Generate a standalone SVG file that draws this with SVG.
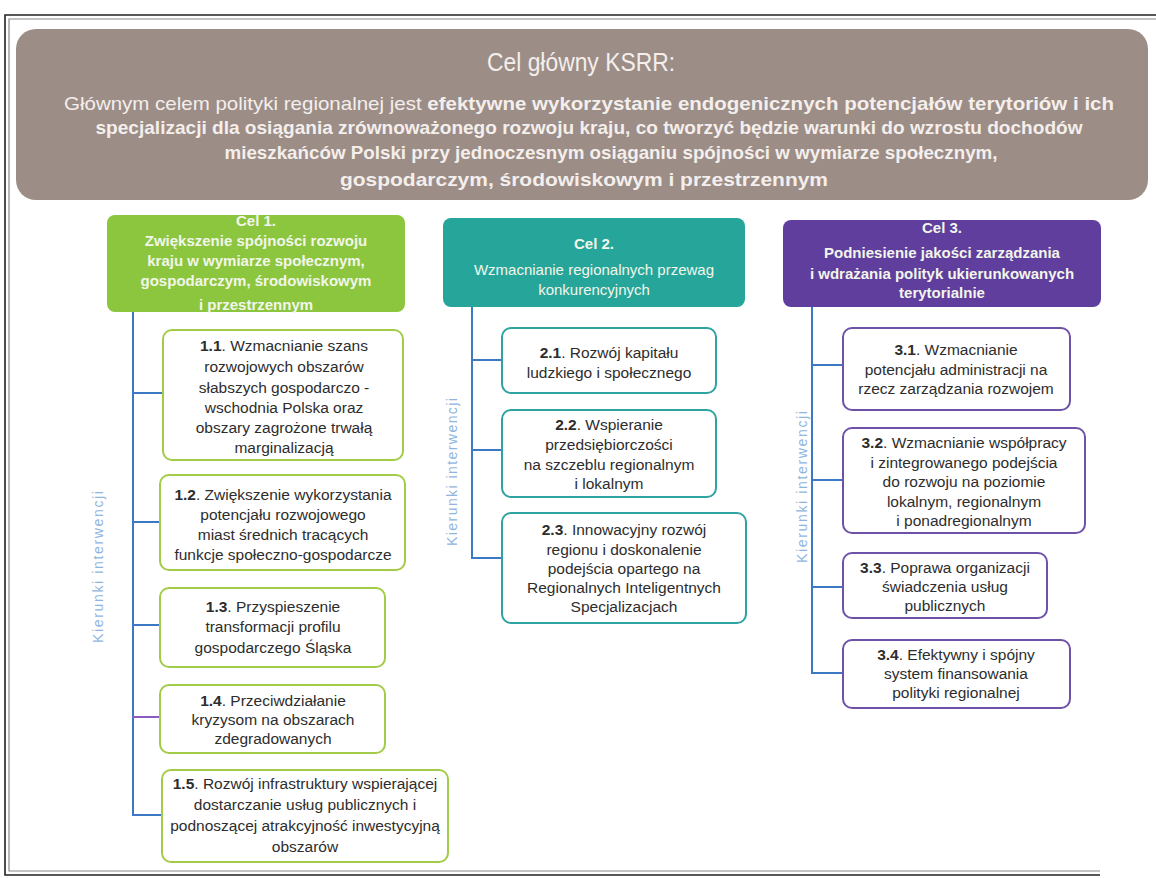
<svg xmlns="http://www.w3.org/2000/svg" width="1156" height="878" viewBox="0 0 1156 878">
<style>
text{font-family:"Liberation Sans",Arial,sans-serif}
.hd{fill:#f4efec;font-size:19px;font-weight:bold;text-anchor:middle}
.ttl{fill:#f4efec;font-size:25px;text-anchor:middle}
.ct{fill:#f2f6ea;font-size:15px;text-anchor:middle}
.bt{fill:#2d2d2d;font-size:15.5px;text-anchor:middle}
.b{font-weight:bold}
.g1{fill:#ffffff;stroke:#a2cc48;stroke-width:2}
.g2{fill:#ffffff;stroke:#2ea3a0;stroke-width:2}
.g3{fill:#ffffff;stroke:#6e52a8;stroke-width:2}
.con line{stroke:#3c79c4;stroke-width:2}
.lbl{fill:#8fb6e0;font-size:14px;text-anchor:middle}
.frm{stroke:#222;stroke-width:1.6;fill:none}
.frm2{stroke:#888;stroke-width:1.2;fill:none}
</style>
<rect width="1156" height="878" fill="#ffffff"/>
<g id="frame">
<polyline class="frm" points="1156,15 5,15 5,875 1100,875"/>
<polyline class="frm2" points="1156,19 9,19 9,871 1100,871"/>
</g>
<g id="header">
<rect x="16" y="29" width="1132" height="171" rx="20" fill="#9c8d87"/>
<text class="ttl" x="581" y="71" textLength="188" lengthAdjust="spacingAndGlyphs">Cel główny KSRR:</text>
<text class="hd" x="589" y="110" textLength="1050" lengthAdjust="spacingAndGlyphs"><tspan font-weight="normal">Głównym celem polityki regionalnej jest </tspan>efektywne wykorzystanie endogenicznych potencjałów terytoriów i ich</text>
<text class="hd" x="589" y="134" textLength="987" lengthAdjust="spacingAndGlyphs">specjalizacji dla osiągania zrównoważonego rozwoju kraju, co tworzyć będzie warunki do wzrostu dochodów</text>
<text class="hd" x="611" y="159" textLength="773" lengthAdjust="spacingAndGlyphs">mieszkańców Polski przy jednoczesnym  osiąganiu spójności w wymiarze społecznym,</text>
<text class="hd" x="584" y="186" textLength="488" lengthAdjust="spacingAndGlyphs">gospodarczym, środowiskowym i przestrzennym</text>
</g>
<g id="connectors" class="con">
<line x1="133" y1="312" x2="133" y2="816"/>
<line x1="132" y1="393" x2="163" y2="393"/>
<line x1="132" y1="522" x2="160" y2="522"/>
<line x1="132" y1="625" x2="160" y2="625"/>
<line x1="132" y1="717" x2="160" y2="717" style="stroke:#8a5cc0"/>
<line x1="132" y1="815" x2="162" y2="815"/>
<line x1="472" y1="307" x2="472" y2="559"/>
<line x1="471" y1="360" x2="502" y2="360"/>
<line x1="471" y1="450" x2="502" y2="450"/>
<line x1="471" y1="558" x2="502" y2="558"/>
<line x1="812" y1="307" x2="812" y2="674"/>
<line x1="811" y1="365" x2="843" y2="365"/>
<line x1="811" y1="480" x2="843" y2="480"/>
<line x1="811" y1="587" x2="843" y2="587"/>
<line x1="811" y1="673" x2="843" y2="673"/>
</g>
<g id="labels">
<text class="lbl" transform="translate(103,567) rotate(-90)" textLength="152">Kierunki interwencji</text>
<text class="lbl" transform="translate(457,472) rotate(-90)" textLength="148">Kierunki interwencji</text>
<text class="lbl" transform="translate(807,487) rotate(-90)" textLength="152">Kierunki interwencji</text>
</g>
<g id="cel1">
<rect x="107" y="215" width="298" height="97" rx="8" fill="#8cc63e"/>
<text class="ct b" x="256" y="226">Cel 1.</text>
<text class="ct b" x="256" y="246">Zwiększenie spójności rozwoju</text>
<text class="ct b" x="256" y="266">kraju w wymiarze społecznym,</text>
<text class="ct b" x="256" y="286">gospodarczym, środowiskowym</text>
<text class="ct b" x="256" y="310">i przestrzennym</text>
</g>
<g id="cel2">
<rect x="443" y="218" width="302" height="89" rx="8" fill="#26a69a"/>
<text class="ct b" x="594" y="249">Cel 2.</text>
<text class="ct" x="594" y="275">Wzmacnianie regionalnych przewag</text>
<text class="ct" x="594" y="295">konkurencyjnych</text>
</g>
<g id="cel3">
<rect x="783" y="220" width="318" height="87" rx="8" fill="#5f3e9e"/>
<text class="ct b" x="942" y="233">Cel 3.</text>
<text class="ct b" x="942" y="258">Podniesienie jakości zarządzania</text>
<text class="ct b" x="942" y="279">i wdrażania polityk ukierunkowanych</text>
<text class="ct b" x="942" y="298">terytorialnie</text>
</g>
<g id="k11">
<rect class="g1" x="163" y="330" width="240" height="130" rx="9"/>
<text class="bt" x="284" y="351"><tspan class="b">1.1</tspan>. Wzmacnianie szans</text>
<text class="bt" x="284" y="372">rozwojowych obszarów</text>
<text class="bt" x="284" y="393">słabszych gospodarczo -</text>
<text class="bt" x="284" y="413">wschodnia Polska oraz</text>
<text class="bt" x="284" y="433">obszary zagrożone trwałą</text>
<text class="bt" x="284" y="453">marginalizacją</text>
</g>
<g id="k12">
<rect class="g1" x="160" y="475" width="245" height="95" rx="9"/>
<text class="bt" x="283" y="500"><tspan class="b">1.2</tspan>. Zwiększenie wykorzystania</text>
<text class="bt" x="283" y="520">potencjału rozwojowego</text>
<text class="bt" x="283" y="540">miast średnich tracących</text>
<text class="bt" x="283" y="560">funkcje społeczno-gospodarcze</text>
</g>
<g id="k13">
<rect class="g1" x="160" y="588" width="225" height="79" rx="9"/>
<text class="bt" x="273" y="612"><tspan class="b">1.3</tspan>. Przyspieszenie</text>
<text class="bt" x="273" y="632">transformacji profilu</text>
<text class="bt" x="273" y="653">gospodarczego Śląska</text>
</g>
<g id="k14">
<rect class="g1" x="160" y="685" width="225" height="68" rx="9"/>
<text class="bt" x="273" y="706"><tspan class="b">1.4</tspan>. Przeciwdziałanie</text>
<text class="bt" x="273" y="725">kryzysom na obszarach</text>
<text class="bt" x="273" y="744">zdegradowanych</text>
</g>
<g id="k15">
<rect class="g1" x="162" y="770" width="286" height="92" rx="9"/>
<text class="bt" x="305" y="789"><tspan class="b">1.5</tspan>.  Rozwój infrastruktury wspierającej</text>
<text class="bt" x="305" y="810">dostarczanie usług publicznych  i</text>
<text class="bt" x="305" y="831">podnoszącej atrakcyjność inwestycyjną</text>
<text class="bt" x="305" y="852">obszarów</text>
</g>
<g id="k21">
<rect class="g2" x="502" y="328" width="214" height="65" rx="9"/>
<text class="bt" x="609" y="358"><tspan class="b">2.1</tspan>. Rozwój kapitału</text>
<text class="bt" x="609" y="378">ludzkiego i społecznego</text>
</g>
<g id="k22">
<rect class="g2" x="502" y="410" width="214" height="87" rx="9"/>
<text class="bt" x="609" y="430"><tspan class="b">2.2</tspan>. Wspieranie</text>
<text class="bt" x="609" y="450">przedsiębiorczości</text>
<text class="bt" x="609" y="470">na szczeblu regionalnym</text>
<text class="bt" x="609" y="489">i lokalnym</text>
</g>
<g id="k23">
<rect class="g2" x="502" y="513" width="244" height="110" rx="9"/>
<text class="bt" x="624" y="535"><tspan class="b">2.3</tspan>. Innowacyjny rozwój</text>
<text class="bt" x="624" y="555">regionu i doskonalenie</text>
<text class="bt" x="624" y="574">podejścia opartego na</text>
<text class="bt" x="624" y="593">Regionalnych Inteligentnych</text>
<text class="bt" x="624" y="612">Specjalizacjach</text>
</g>
<g id="k31">
<rect class="g3" x="843" y="328" width="227" height="82" rx="9"/>
<text class="bt" x="956" y="355"><tspan class="b">3.1</tspan>. Wzmacnianie</text>
<text class="bt" x="956" y="375">potencjału administracji na</text>
<text class="bt" x="956" y="394">rzecz zarządzania rozwojem</text>
</g>
<g id="k32">
<rect class="g3" x="843" y="428" width="242" height="105" rx="9"/>
<text class="bt" x="964" y="448"><tspan class="b">3.2</tspan>. Wzmacnianie współpracy</text>
<text class="bt" x="964" y="468">i zintegrowanego podejścia</text>
<text class="bt" x="964" y="487">do rozwoju na poziomie</text>
<text class="bt" x="964" y="507">lokalnym, regionalnym</text>
<text class="bt" x="964" y="526">i ponadregionalnym</text>
</g>
<g id="k33">
<rect class="g3" x="843" y="553" width="204" height="65" rx="9"/>
<text class="bt" x="945" y="573"><tspan class="b">3.3</tspan>. Poprawa organizacji</text>
<text class="bt" x="945" y="592">świadczenia usług</text>
<text class="bt" x="945" y="611">publicznych</text>
</g>
<g id="k34">
<rect class="g3" x="843" y="640" width="227" height="68" rx="9"/>
<text class="bt" x="956" y="660"><tspan class="b">3.4</tspan>. Efektywny i spójny</text>
<text class="bt" x="956" y="679">system finansowania</text>
<text class="bt" x="956" y="698">polityki regionalnej</text>
</g>
</svg>
